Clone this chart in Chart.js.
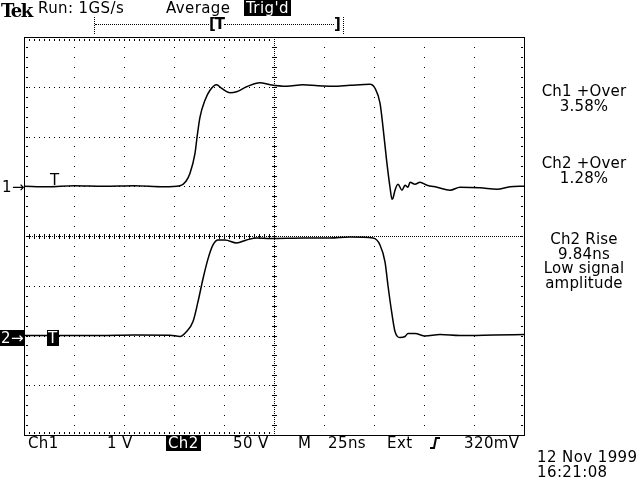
<!DOCTYPE html>
<html>
<head>
<meta charset="utf-8">
<script src="https://cdn.jsdelivr.net/npm/chart.js@4.4.1/dist/chart.umd.min.js"></script>
<style>
  body { margin: 0; background: #fff; }
  #scope { position: relative; width: 640px; height: 480px; overflow: hidden; }
  #scope canvas { position: absolute; left: 0; top: 0; }
  .t { position: absolute; font: 15px "DejaVu Sans", sans-serif; line-height: 14px; color: #000; white-space: nowrap; letter-spacing: 0.4px; }
  .inv { background: #000; color: #fff; padding: 0 1px; }
  .blk { position: absolute; left: 528px; width: 112px; text-align: center; font: 15px "DejaVu Sans", sans-serif; line-height: 14.5px; letter-spacing: 0.2px; }
  .dotH { position: absolute; height: 0; border-top: 1px dotted #000; }
  .dotV { position: absolute; width: 0; border-left: 1px dotted #000; }
</style>
</head>
<body>
<div id="scope">
  <canvas id="chart" width="640" height="480"></canvas>

  <div class="t" style="left:1px;top:0px;font:bold 18px 'DejaVu Serif',serif;letter-spacing:-1.5px;">Tek</div>
  <div class="t" style="left:38px;top:1px;">Run: 1GS/s</div>
  <div class="t" style="left:166px;top:1px;">Average</div>
  <div class="t inv" style="left:244px;top:0px;padding:1px 2px;">Trig'd</div>

  <div class="dotV" style="left:94px;top:17px;height:17px;"></div>
  <div class="dotH" style="left:95px;top:24px;width:114px;"></div>
  <div class="t" style="left:209px;top:17px;font-weight:bold;letter-spacing:-1px;">[T</div>
  <div class="dotH" style="left:224px;top:24px;width:110px;"></div>
  <div class="t" style="left:334px;top:17px;font-weight:bold;">]</div>
  <div class="dotV" style="left:343px;top:17px;height:17px;"></div>

  <div class="t" style="left:2px;top:180px;">1→</div>
  <div class="t inv" style="left:0px;top:330px;padding:1px 1px;">2→</div>
  <div class="t" style="left:50px;top:173px;">T</div>
  <div class="t inv" style="left:47px;top:330px;padding:1px 1px;">T</div>

  <div class="blk" style="top:84px;">Ch1 +Over<br>3.58%</div>
  <div class="blk" style="top:156px;">Ch2 +Over<br>1.28%</div>
  <div class="blk" style="top:232px;">Ch2 Rise<br>9.84ns<br>Low signal<br>amplitude</div>

  <div class="t" style="left:28px;top:436px;">Ch1</div>
  <div class="t" style="left:107px;top:436px;">1 V</div>
  <div class="t inv" style="left:166px;top:435px;padding:1px 2px;">Ch2</div>
  <div class="t" style="left:233px;top:436px;">50 V</div>
  <div class="t" style="left:298px;top:436px;">M</div>
  <div class="t" style="left:328px;top:436px;">25ns</div>
  <div class="t" style="left:387px;top:436px;">Ext</div>
  <svg style="position:absolute;left:429px;top:437px;" width="12" height="12"><polyline points="1,11 5,11 7,1 11,1" fill="none" stroke="#000" stroke-width="2"/></svg>
  <div class="t" style="left:464px;top:436px;">320mV</div>

  <div class="t" style="left:537px;top:450px;">12 Nov 1999</div>
  <div class="t" style="left:537px;top:465px;">16:21:08</div>
</div>

<script>
// time in ns across the screen (25 ns/div, 10 div)
const ch1Time = [0, 12, 25, 40, 55, 70, 78, 81, 83, 85.5, 86.5, 88, 90.5, 93, 96.3, 98.8, 103, 106.3, 111.3, 118, 123, 131.3, 139.5, 147, 154.5, 163, 173, 175.5, 178, 179.5, 181.3, 183, 184, 184.5, 185.5, 187, 189, 190.5, 192, 193, 195.5, 198, 201.5, 206.5, 213, 218, 228, 236.5, 243, 250];
const ch1Volts = [0, -0.01, 0.01, 0, 0.01, -0.01, 0.01, 0.1, 0.26, 0.66, 0.98, 1.39, 1.73, 1.93, 2.04, 1.97, 1.88, 1.9, 2.0, 2.08, 2.04, 2.01, 2.04, 2.02, 2.01, 2.03, 2.05, 1.97, 1.67, 1.19, 0.52, -0.02, -0.26, -0.24, -0.08, 0.04, -0.08, 0.02, -0.02, 0.08, 0.04, 0.08, 0.02, -0.02, -0.08, -0.02, -0.03, -0.06, -0.01, 0];

const ch2Time = [0, 20, 38, 55, 73, 78, 81.3, 84.5, 87, 89.5, 92, 94.5, 97, 100.5, 106.3, 111.3, 116.3, 123, 139.5, 153, 163, 174.5, 178, 180.5, 182, 183.8, 185.5, 188, 190.5, 192, 195.5, 200.5, 208, 218, 235, 250];
const ch2Volts = [0, 0, 0, 0.5, 0.3, -1, 4, 14, 34, 57, 77, 91, 96, 96, 93, 96, 98, 97.5, 98, 98, 99, 98, 91, 74, 50, 24, 4, -2, -1, 2, 2, -0.5, 1, 0, 0.5, 1];

// vertical settings: volts per division and ground position (div from bottom)
const ch1VoltsPerDiv = 1, ch1Ground = 5;
const ch2VoltsPerDiv = 50, ch2Ground = 2;

const toPoints = (t, v, perDiv, gnd) => t.map((tt, i) => ({ x: tt, y: v[i] / perDiv + gnd }));

const graticule = {
  id: 'graticule',
  beforeDatasetsDraw(chart) {
    const { ctx, chartArea: a, scales: { x, y } } = chart;
    const dot = (px, py, w, h) => ctx.fillRect(Math.round(px), Math.round(py), w || 1, h || 1);
    ctx.save();
    ctx.fillStyle = '#000';
    // major grid lines made of dots at each minor step
    for (let i = 1; i < 10; i++) {
      if (i === 5) continue;
      const px = x.getPixelForValue(i * 25);
      for (let k = 1; k < 40; k++) dot(px, y.getPixelForValue(k * 0.2));
    }
    for (let j = 1; j < 8; j++) {
      if (j === 4) continue;
      const py = y.getPixelForValue(j);
      for (let k = 1; k < 50; k++) dot(x.getPixelForValue(k * 2.5), py);
    }
    // center lines: dense dots plus ticks
    const cx = Math.round(x.getPixelForValue(125));
    const cy = Math.round(y.getPixelForValue(4));
    for (let py = a.top; py < a.bottom; py += 2) dot(cx, py);
    for (let px = a.left; px < a.right; px += 2) dot(px, cy);
    for (let k = 1; k < 40; k++) dot(cx - 2, y.getPixelForValue(k * 0.2), 5, 1);
    for (let k = 1; k < 50; k++) dot(x.getPixelForValue(k * 2.5), cy - 2, 1, 5);
    // frame with inward ticks
    ctx.fillRect(a.left, a.top, a.right - a.left + 1, 1);
    ctx.fillRect(a.left, a.bottom, a.right - a.left + 1, 1);
    ctx.fillRect(a.left, a.top, 1, a.bottom - a.top + 1);
    ctx.fillRect(a.right, a.top, 1, a.bottom - a.top + 1);
    for (let k = 1; k < 50; k++) {
      const px = x.getPixelForValue(k * 2.5);
      dot(px, a.top + 2, 1, 2);
      dot(px, a.bottom - 3, 1, 2);
    }
    for (let k = 1; k < 40; k++) {
      const py = y.getPixelForValue(k * 0.2);
      dot(a.left + 2, py, 2, 1);
      dot(a.right - 3, py, 2, 1);
    }
    ctx.restore();
  }
};

new Chart('chart', {
  type: 'line',
  data: {
    datasets: [
      { label: 'Ch1', data: toPoints(ch1Time, ch1Volts, ch1VoltsPerDiv, ch1Ground) },
      { label: 'Ch2', data: toPoints(ch2Time, ch2Volts, ch2VoltsPerDiv, ch2Ground) }
    ]
  },
  options: {
    responsive: false,
    animation: false,
    layout: { padding: { left: 24, top: 37, right: 116, bottom: 45 } },
    elements: {
      point: { radius: 0 },
      line: { borderColor: '#000', borderWidth: 1.5, cubicInterpolationMode: 'monotone' }
    },
    plugins: { legend: { display: false }, tooltip: { enabled: false } },
    scales: {
      x: { type: 'linear', min: 0, max: 250, display: false },
      y: { type: 'linear', min: 0, max: 8, display: false }
    }
  },
  plugins: [graticule]
});
</script>
</body>
</html>
